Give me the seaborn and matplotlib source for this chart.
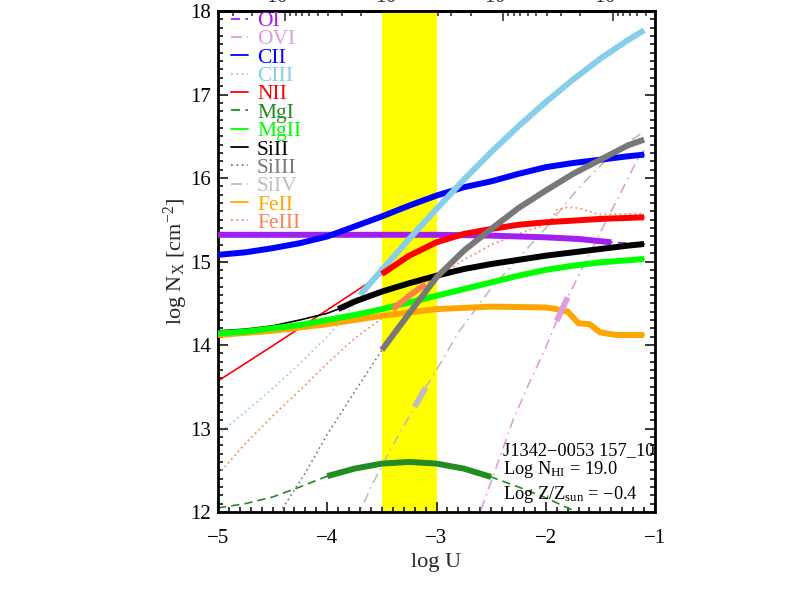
import numpy as np
import matplotlib
matplotlib.use("Agg")
import matplotlib.pyplot as plt
import seaborn as sns
from matplotlib.lines import Line2D
from matplotlib.ticker import MultipleLocator, FixedLocator

sns.set_theme(style="ticks")
plt.rcParams["font.family"] = ["Liberation Serif", "DejaVu Serif"]
plt.rcParams["mathtext.fontset"] = "custom"
plt.rcParams["mathtext.rm"] = "Liberation Serif"
plt.rcParams["mathtext.it"] = "Liberation Serif:italic"

# =========================
# DATA (log U vs log N)
# =========================
oi_x = [-5, -4.5, -4, -3.5, -3, -2.5, -2, -1.7, -1.4, -1.1]
oi_y = [15.32, 15.32, 15.32, 15.32, 15.32, 15.31, 15.29, 15.27, 15.23, 15.21]

ovi_x = [-2.8, -2.6, -2.45, -2.3, -2.15, -2.0, -1.9, -1.8, -1.7, -1.5, -1.3, -1.17, -1.1]
ovi_y = [11.3, 12.0, 12.55, 13.1, 13.55, 13.97, 14.29, 14.57, 14.83, 15.35, 15.86, 16.2, 16.33]

cii_x = [-5, -4.75, -4.5, -4.25, -4, -3.75, -3.5, -3.25, -3, -2.75, -2.5, -2.25, -2, -1.75, -1.5, -1.25, -1.1]
cii_y = [15.08, 15.11, 15.16, 15.22, 15.30, 15.42, 15.54, 15.67, 15.79, 15.89, 15.96, 16.05, 16.13, 16.18, 16.22, 16.26, 16.28]

ciii_x = [-5, -4.75, -4.5, -4.25, -4, -3.85, -3.7, -3.5, -3.25, -3, -2.75, -2.5, -2.25, -2, -1.75, -1.5, -1.25, -1.1]
ciii_y = [12.93, 13.2, 13.48, 13.78, 14.1, 14.33, 14.6, 14.9, 15.27, 15.63, 15.98, 16.31, 16.62, 16.91, 17.18, 17.43, 17.65, 17.77]

nii_x = [-5, -4.5, -4, -3.5, -3.25, -3, -2.75, -2.5, -2.25, -2, -1.75, -1.5, -1.1]
nii_y = [13.57, 13.99, 14.42, 14.85, 15.07, 15.23, 15.33, 15.39, 15.44, 15.47, 15.49, 15.51, 15.53]

mgi_x = [-5, -4.75, -4.5, -4.25, -4, -3.75, -3.5, -3.25, -3, -2.75, -2.5, -2.25, -2, -1.75, -1.5, -1.1]
mgi_y = [12.05, 12.1, 12.18, 12.3, 12.43, 12.52, 12.58, 12.6, 12.58, 12.52, 12.42, 12.3, 12.17, 12.02, 11.85, 11.5]

mgii_x = [-5, -4.75, -4.5, -4.25, -4, -3.75, -3.5, -3.25, -3, -2.75, -2.5, -2.25, -2, -1.75, -1.5, -1.1]
mgii_y = [14.14, 14.16, 14.2, 14.24, 14.3, 14.36, 14.43, 14.51, 14.59, 14.67, 14.75, 14.83, 14.9, 14.95, 14.99, 15.03]

siii_x = [-5, -4.75, -4.5, -4.25, -4, -3.9, -3.75, -3.5, -3.25, -3, -2.75, -2.5, -2.25, -2, -1.75, -1.5, -1.25, -1.1]
siii_y = [14.17, 14.19, 14.23, 14.3, 14.38, 14.43, 14.52, 14.64, 14.74, 14.83, 14.91, 14.97, 15.02, 15.07, 15.11, 15.15, 15.19, 15.21]

siiii_x = [-4.9, -4.6, -4.43, -4.2, -4.0, -3.75, -3.5, -3.25, -3.0, -2.75, -2.5, -2.25, -2.0, -1.75, -1.5, -1.25, -1.1]
siiii_y = [10.9, 11.6, 12.0, 12.47, 12.93, 13.44, 13.94, 14.38, 14.81, 15.13, 15.39, 15.64, 15.85, 16.05, 16.22, 16.39, 16.46]

siiv_x = [-3.9, -3.7, -3.6, -3.4, -3.2, -3.1, -3.0, -2.8, -2.5, -2.3, -2.0, -1.7, -1.4, -1.1]
siiv_y = [11.4, 12.0, 12.3, 12.8, 13.26, 13.49, 13.7, 14.15, 14.68, 14.97, 15.40, 15.88, 16.28, 16.56]

feii_x = [-5, -4.5, -4, -3.5, -3, -2.5, -2, -1.9, -1.8, -1.7, -1.6, -1.5, -1.35, -1.1]
feii_y = [14.12, 14.17, 14.25, 14.35, 14.43, 14.46, 14.45, 14.43, 14.40, 14.26, 14.25, 14.15, 14.12, 14.12]

feiii_x = [-5, -4.75, -4.5, -4.25, -4, -3.75, -3.5, -3.4, -3.25, -3.1, -3.0, -2.75, -2.5, -2.25,
           -2.05, -1.95, -1.9, -1.8, -1.7, -1.6, -1.5, -1.3, -1.1]
feiii_y = [12.45, 12.82, 13.15, 13.46, 13.78, 14.08, 14.32, 14.43, 14.59, 14.73, 14.8, 15.02, 15.2, 15.33,
           15.42, 15.49, 15.62, 15.65, 15.64, 15.6, 15.56, 15.57, 15.57]

# name, x, y, colour, thin style, thick range
ions = [
    ("OI", oi_x, oi_y, "#A020F0", (0, (5, 3)), (-5, -1.4)),
    ("OVI", ovi_x, ovi_y, "#DDA0DD", (0, (6, 3, 1, 3)), (-1.9, -1.8)),
    ("CII", cii_x, cii_y, "#0000FF", "-", (-5, -1.1)),
    ("CIII", ciii_x, ciii_y, "#87CEEB", (0, (1, 2)), (-3.7, -1.1)),
    ("NII", nii_x, nii_y, "#FF0000", "-", (-3.5, -1.1)),
    ("MgI", mgi_x, mgi_y, "#228B22", (0, (5, 3)), (-4.0, -2.5)),
    ("MgII", mgii_x, mgii_y, "#00FF00", "-", (-5, -1.1)),
    ("SiII", siii_x, siii_y, "#000000", "-", (-3.9, -1.1)),
    ("SiIII", siiii_x, siiii_y, "#787878", (0, (1, 2)), (-3.5, -1.1)),
    ("SiIV", siiv_x, siiv_y, "#BEBEBE", (0, (6, 3, 1, 3)), (-3.2, -3.1)),
    ("FeII", feii_x, feii_y, "#FFA500", "-", (-5, -1.1)),
    ("FeIII", feiii_x, feiii_y, "#FF7F50", (0, (1, 2)), (-3.4, -3.1)),
]

# allowed log U range (yellow band)
band = (-3.5, -3.0)

# top axis: log n_H, tied to log U
nh_major = [-1, -2, -3, -4]
nh_labels = ["10$^{-1}$", "10$^{-2}$", "10$^{-3}$", "10$^{-4}$"]
nh_offset = -5.387

# =========================
# PLOT
# =========================
fig = plt.figure(figsize=(7.89, 5.99), dpi=100)
ax = fig.add_axes([0.2763, 0.1452, 0.5539, 0.8364])

ax.axvspan(band[0], band[1], color="yellow", lw=0, zorder=0.5)

for i, (name, xs, ys, col, ls, (lo, hi)) in enumerate(ions):
    sns.lineplot(x=xs, y=ys, ax=ax, color=col, linewidth=1.2, linestyle=ls,
                 sort=False, estimator=None, zorder=2 + i * 0.01)
    xt = [x for x in xs if lo - 1e-9 <= x <= hi + 1e-9]
    yt = [y for x, y in zip(xs, ys) if lo - 1e-9 <= x <= hi + 1e-9]
    z = 4 if name == "SiIII" else 3 + i * 0.01
    if name == "FeII":
        z = 2.9
    sns.lineplot(x=xt, y=yt, ax=ax, color=col, linewidth=4.3, linestyle="-",
                 sort=False, estimator=None, zorder=z, solid_capstyle="butt")

ax.set_xlim(-5, -1)
ax.set_ylim(12, 18)

ax.xaxis.set_major_locator(MultipleLocator(1))
ax.xaxis.set_minor_locator(MultipleLocator(0.1))
ax.yaxis.set_major_locator(MultipleLocator(1))
ax.yaxis.set_minor_locator(MultipleLocator(0.1))
ax.tick_params(which="both", direction="in", right=True, top=False, width=1.1, colors="black")
ax.tick_params(which="major", length=7)
ax.tick_params(which="minor", length=3.5)
ax.tick_params(axis="x", labelsize=15, pad=12)
ax.tick_params(axis="y", labelsize=15, pad=5)
for s in ax.spines.values():
    s.set_linewidth(2.0)
    s.set_color("black")

# top axis in density
secax = ax.secondary_xaxis("top", functions=(lambda u: -(u - nh_offset), lambda n: -n + nh_offset))
secax.set_xticks(nh_major, labels=nh_labels)
minor = [k + np.log10(m) for k in range(-7, 0) for m in range(2, 10)]
secax.xaxis.set_minor_locator(FixedLocator(minor))
secax.tick_params(which="both", direction="in", width=1.1, labelsize=15, pad=2.5)
secax.tick_params(which="major", length=7)
secax.tick_params(which="minor", length=3.5)
secax.spines["top"].set_linewidth(2.0)

ax.set_xlabel("log U", fontsize=16, labelpad=4)
ax.set_ylabel("log N$_{\\rm X}$ [cm$^{-2}$]", fontsize=16, labelpad=0)

# legend
handles = [Line2D([], [], color=c, linestyle=ls, linewidth=1.3) for (_, _, _, c, ls, _) in ions]
names = [n for (n, _, _, _, _, _) in ions]
ax.legend(handles, names, loc="upper left", bbox_to_anchor=(0.03, 1.0), frameon=False,
          fontsize=15.5, handlelength=0.8, handletextpad=0.4, labelspacing=-0.08,
          borderaxespad=0, borderpad=0, labelcolor="linecolor")

# labels bottom right
ax.text(-2.39, 12.68, "J1342\u22120053 157_10", fontsize=13.2, color="black")
ax.text(-2.39, 12.45, "Log N$_{\\rm HI}$ = 19.0", fontsize=13.2, color="black")
ax.text(-2.39, 12.16, "Log Z/Z$_{\\rm sun}$ = \u22120.4", fontsize=13.2, color="black")

plt.savefig("out.png", dpi=100)
